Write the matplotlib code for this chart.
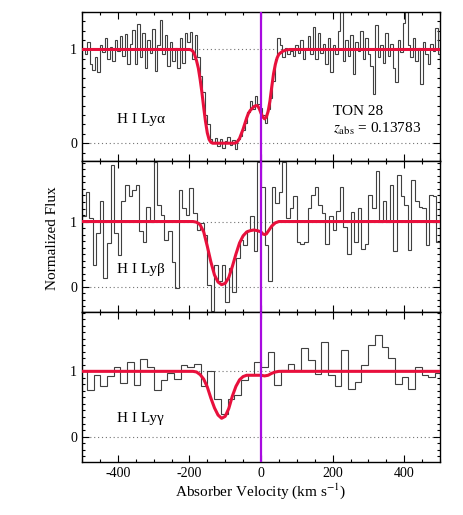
import numpy as np
import matplotlib
matplotlib.use("Agg")
import matplotlib.pyplot as plt
from matplotlib.ticker import MultipleLocator, FixedLocator

plt.rcParams['font.family'] = ['Liberation Serif', 'DejaVu Serif']
plt.rcParams['mathtext.fontset'] = 'stix'

# ---------------- data ----------------
# Ly alpha spectrum (bins of 7 km/s starting at -500)
alpha_v0, alpha_dv = -500.0, 7.0
alpha_flux = [
    1.02, 0.95, 1.08, 0.85, 0.78, 0.92, 0.76, 1.05, 0.97, 1.12,
    0.90, 1.03, 0.88, 1.10, 0.98, 1.14, 0.93, 1.16, 0.84, 1.06,
    1.21, 0.85, 1.27, 0.92, 1.18, 0.80, 1.10, 0.96, 1.22, 0.77,
    1.05, 1.31, 0.95, 1.15, 0.82, 1.08, 0.88, 1.02, 0.80, 1.12,
    0.86, 1.18, 1.08, 1.19, 0.90, 1.15, 0.92, 0.72, 0.55, 0.30,
    0.21, 0.05, 0.00, 0.06, -0.03, 0.04, -0.05, 0.02, 0.07, -0.02,
    0.03, -0.06, 0.05, 0.08, 0.14, 0.22, 0.33, 0.45, 0.36, 0.50,
    0.42, 0.38, 0.30, 0.22, 0.36, 0.48, 0.66, 0.90, 1.12, 1.05,
    0.92, 1.02, 0.95, 0.98, 0.93, 1.05, 0.96, 1.10, 0.90, 1.02,
    1.14, 0.95, 1.24, 0.90, 1.18, 0.96, 1.06, 0.85, 1.12, 0.76,
    1.05, 0.95, 1.20, 1.40, 0.88, 1.10, 0.93, 1.15, 0.74, 1.08,
    0.98, 1.20, 0.90, 1.12, 0.95, 0.82, 0.53, 1.26, 0.92, 1.05,
    0.86, 1.18, 0.93, 1.06, 0.80, 0.65, 1.10, 0.97, 1.28, 1.43,
    1.05, 0.92, 1.12, 0.88, 1.02, 0.63, 1.08, 0.95, 0.85, 1.06,
    0.98, 1.23, 0.95,
]

# Ly beta spectrum (bins of 10 km/s starting at -500)
beta_v0, beta_dv = -500.0, 10.0
beta_flux = [
    1.08, 1.46, 1.05, 0.33, 0.82, 1.32, 0.13, 0.67, 1.87, 0.82,
    0.49, 1.31, 1.565, 1.385, 1.49, 1.565, 0.85, 0.69, 1.23, 1.00,
    1.92, 1.26, 1.10, 0.72, 0.85, 0.385, -0.025, 1.49, 1.205, 1.10,
    1.51, 1.13, 0.87, 0.975, 0.795, 0.026, -0.38, 0.33, 0.08, 0.33,
    -0.23, 0.28, -0.08, 0.44, 0.72, 0.64, 0.87, 1.08, 0.54, 1.92,
    1.53, 0.64, 0.08, 1.53, 1.28, 1.45, 1.92, 1.05, 1.205, 1.385,
    0.68, 0.66, 0.68, 1.205, 1.41, 1.53, 1.26, 1.13, 0.65, 1.09,
    0.87, 1.165, 1.53, 0.92, 0.50, 1.14, 0.68, 1.205, 0.58, 0.65,
    1.41, 1.205, 1.77, 1.00, 1.31, 1.00, 1.56, 0.54, 1.71, 1.385,
    1.26, 0.565, 1.64, 1.31, 1.23, 1.205, 0.64, 1.41, 1.385, 0.68,
]

# Ly gamma spectrum (bins of 18.7 km/s starting at -504.9)
gamma_v0, gamma_dv = -504.9, 18.7
gamma_flux = [
    1.00, 0.71, 0.94, 0.77, 0.935, 1.07, 0.82, 1.14, 0.79, 1.19,
    1.07, 0.72, 0.86, 0.97, 0.89, 1.10, 1.07, 1.11, 0.78, 1.01,
    0.57, 0.35, 0.57, 0.645, 0.87, 0.95, 1.14,
    1.067, 1.296, 0.797, 1.015, 1.117, 1.015, 1.357, 1.168, 0.965, 1.448,
    0.94, 0.782, 1.32, 0.73, 0.84, 1.09, 1.40, 1.55, 1.37, 1.21,
    0.81, 0.91, 0.73, 1.07, 0.945, 0.92, 0.975,
]

# Model fits
model_v_alpha = [-500, -200, -195, -190, -185, -180, -175, -170, -165, -160, -155,
                 -150, -145, -140, -135, -75, -70, -65, -60, -55, -50, -45, -40,
                 -35, -30, -25, -20, -15, -10, -5, 0, 5, 10, 15, 20, 25, 30, 35,
                 40, 45, 50, 60, 70, 80, 500]
model_f_alpha = [1.0, 1.0, 0.995, 0.98, 0.94, 0.88, 0.80, 0.68, 0.54, 0.38, 0.23,
                 0.11, 0.04, 0.01, 0.0, 0.0, 0.005, 0.02, 0.05, 0.10, 0.15, 0.21, 0.27,
                 0.32, 0.35, 0.37, 0.39, 0.40, 0.40, 0.37, 0.32, 0.28, 0.26, 0.28,
                 0.34, 0.45, 0.60, 0.74, 0.84, 0.91, 0.95, 0.98, 0.995, 1.0, 1.0]

model_v_beta = [-500, -190, -180, -170, -160, -150, -140, -130, -120, -110, -100,
                -90, -80, -70, -60, -50, -40, -30, -20, -10, 0, 5, 10, 15, 20,
                30, 40, 50, 500]
model_f_beta = [1.0, 1.0, 0.99, 0.95, 0.84, 0.62, 0.38, 0.18, 0.07, 0.03, 0.05,
                0.14, 0.31, 0.50, 0.67, 0.78, 0.84, 0.86, 0.87, 0.86, 0.84, 0.81,
                0.80, 0.81, 0.85, 0.93, 0.98, 1.0, 1.0]

model_v_gamma = [-500, -190, -180, -170, -160, -150, -140, -130, -120, -110, -100,
                 -90, -80, -70, -60, -50, -40, -20, 0, 10, 20, 30, 40, 50, 500]
model_f_gamma = [1.0, 1.0, 0.99, 0.95, 0.88, 0.76, 0.59, 0.44, 0.33, 0.28, 0.31,
                 0.43, 0.62, 0.77, 0.87, 0.92, 0.94, 0.94, 0.94, 0.93, 0.94, 0.97,
                 0.99, 1.0, 1.0]

labels = ["H I Ly\u03b1", "H I Ly\u03b2", "H I Ly\u03b3"]
x_ticks = [-400, -200, 0, 200, 400]

# ---------------- figure ----------------
W, H = 463, 515
fig = plt.figure(figsize=(W / 100, H / 100), dpi=100)
L, R = 82 / W, 440 / W
bounds = [(12, 161), (161, 312), (312, 462)]
ylims = [(-0.19, 1.40), (-0.39, 1.93), (-0.39, 1.91)]

spectra = [
    (alpha_v0, alpha_dv, alpha_flux, model_v_alpha, model_f_alpha),
    (beta_v0, beta_dv, beta_flux, model_v_beta, model_f_beta),
    (gamma_v0, gamma_dv, gamma_flux, model_v_gamma, model_f_gamma),
]

axes = []
for i, ((t, b), yl, (v0, dv, fl, mv, mf)) in enumerate(zip(bounds, ylims, spectra)):
    ax = fig.add_axes([L, 1 - b / H, R - L, (b - t) / H])
    axes.append(ax)
    ax.set_xlim(-500, 500)
    ax.set_ylim(*yl)
    for yv in (0, 1):
        ax.axhline(yv, color='0.45', lw=0.8, ls=(0, (1, 2.5)), zorder=1)
    edges = v0 + dv * np.arange(len(fl) + 1)
    ax.stairs(fl, edges, color='0.25', lw=0.8, zorder=2, baseline=None)
    ax.plot(mv, mf, color='#e8103c', lw=2.2, zorder=3, solid_capstyle='round')
    ax.axvline(0, color='#a80ae0', lw=1.6, zorder=4)

    ax.xaxis.set_major_locator(FixedLocator([-400, -200, 0, 200, 400]))
    ax.xaxis.set_minor_locator(MultipleLocator(50))
    ax.yaxis.set_major_locator(FixedLocator([0, 1]))
    ax.yaxis.set_minor_locator(MultipleLocator(0.1))
    ax.tick_params(which='both', direction='in', top=True, right=True,
                   labelsize=10, width=0.8)
    ax.tick_params(which='major', length=5)
    ax.tick_params(which='minor', length=2.5)
    for s in ax.spines.values():
        s.set_linewidth(1.0)
    if i < 2:
        ax.tick_params(labelbottom=False)
    else:
        ax.set_xticklabels([str(v) for v in x_ticks])
    ax.text(-401, [0.25, 0.26, 0.27][i], labels[i], fontsize=11,
            ha='left', va='center', zorder=5)

axes[0].text(200, 0.34, "TON 28", fontsize=11, ha='left', va='center')
axes[0].text(200, 0.15, r"$z_{\rm abs}$ = 0.13783", fontsize=11, ha='left', va='center')

axes[2].set_xlabel("Absorber Velocity (km s$^{-1}$)", fontsize=11, labelpad=1)
fig.text(53 / W, 1 - 238 / H, "Normalized Flux", rotation=90, fontsize=11,
         ha='center', va='center')

fig.savefig("out.png", dpi=100)
